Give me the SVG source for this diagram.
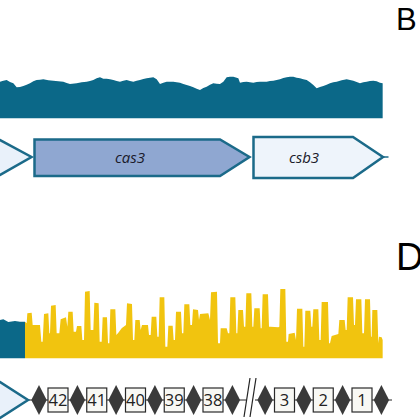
<svg xmlns="http://www.w3.org/2000/svg" width="420" height="420" viewBox="0 0 420 420">
<style>
.gene{stroke:#1b6a89;stroke-width:2.5;stroke-linejoin:miter}
.gl{font-family:"Open Sans","Liberation Sans",sans-serif;font-style:italic;font-size:15px;fill:#1a1a2a;text-anchor:middle}
.dia{fill:#3a3a3a}
.box{fill:#f8f8f4;stroke:#2a2a2a;stroke-width:1.2}
.num{font-family:"Open Sans","Liberation Sans",sans-serif;font-size:16.5px;fill:#222;text-anchor:middle}
.lab{font-family:"Liberation Sans",Arial,sans-serif;fill:#000}
</style>
<rect width="420" height="420" fill="#fff"/>
<text class="lab" x="396" y="30" font-size="31">B</text>
<text class="lab" x="396" y="270" font-size="38">D</text>
<g id="coverage-top">
<path fill="#0b6888" transform="scale(0.33333)" d="M0,355 L0,245 L10,242 L20,240 L30,246 L40,250 L50,262 L60,261 L70,258 L80,254 L90,250 L100,244 L110,240 L120,239 L130,238 L145,241 L160,242 L175,244 L190,245 L200,249 L210,252 L230,250 L245,247 L260,245 L270,243 L280,240 L290,235 L300,232 L310,236 L320,236 L330,238 L340,240 L350,243 L360,245 L370,242 L380,240 L390,243 L400,245 L410,242 L420,240 L430,237 L440,235 L450,233 L460,232 L470,238 L480,252 L490,248 L500,245 L520,245 L530,247 L540,248 L550,252 L560,255 L570,258 L580,262 L590,266 L600,270 L610,264 L620,260 L630,254 L640,250 L650,251 L660,252 L670,245 L680,232 L690,230 L700,230 L710,233 L715,235 L720,248 L730,246 L740,245 L750,247 L760,248 L770,246 L780,245 L800,245 L810,243 L820,242 L830,240 L840,238 L850,234 L860,232 L870,230 L880,230 L890,233 L900,235 L910,238 L920,240 L930,247 L940,255 L950,265 L960,261 L970,258 L980,254 L990,250 L1000,247 L1010,245 L1025,241 L1040,238 L1050,240 L1060,242 L1070,246 L1080,250 L1090,247 L1100,245 L1110,243 L1120,242 L1130,244 L1140,248 L1148,250 L1148,355 Z"/>
</g>
<g id="coverage-bottom" transform="translate(0,210) scale(0.33333)">
<path fill="#0b6888" d="M0,445 L0,330 L10,328 L25,336 L45,333 L60,335 L75,335 L75,445 Z"/>
<path fill="#f1c40f" d="M75,445 L75,335 L80,340 L82,310 L95,308 L98,345 L108,345 L120,345 L124,395 L128,395 L132,312 L145,310 L148,370 L150,370 L153,287 L167,285 L170,370 L178,370 L182,328 L198,322 L202,350 L205,305 L218,305 L221,365 L228,365 L231,348 L244,348 L247,390 L252,390 L255,245 L269,243 L272,360 L280,360 L283,278 L296,280 L299,395 L305,395 L308,322 L321,322 L324,400 L328,400 L331,298 L346,298 L349,375 L355,368 L365,355 L378,345 L381,280 L396,282 L399,390 L403,390 L406,330 L419,330 L422,360 L426,345 L444,345 L447,375 L452,375 L455,320 L469,320 L472,380 L476,380 L479,262 L493,262 L496,410 L502,410 L505,347 L518,347 L521,390 L525,390 L528,305 L543,305 L546,370 L550,370 L553,283 L568,283 L571,345 L576,345 L579,298 L594,300 L597,330 L600,312 L625,310 L630,330 L633,247 L651,245 L654,400 L660,400 L662,355 L680,355 L684,370 L688,370 L691,262 L706,262 L709,370 L712,370 L715,300 L729,300 L732,350 L736,350 L739,250 L754,250 L757,350 L760,350 L763,295 L779,295 L782,355 L785,355 L788,253 L804,253 L807,350 L812,350 L835,352 L838,350 L841,237 L856,237 L859,395 L864,395 L866,372 L884,368 L888,390 L891,296 L907,296 L910,410 L913,410 L916,302 L931,302 L934,350 L937,350 L940,298 L955,298 L958,390 L962,390 L965,276 L984,276 L987,400 L990,400 L995,378 L1015,372 L1018,330 L1034,330 L1037,360 L1040,360 L1043,262 L1059,262 L1062,345 L1065,345 L1068,268 L1084,268 L1087,370 L1092,370 L1095,268 L1110,268 L1113,380 L1115,380 L1117,300 L1132,300 L1135,400 L1137,380 L1145,382 L1148,390 L1148,445 Z"/>
</g>
<g id="gene-partial-top"><path class="gene" fill="#e9f1fa" d="M-5,140 L0,140 L31.5,157 L0,175 L-5,175"/></g>
<g id="gene-cas3"><path class="gene" fill="#8fa7d1" d="M34.5,139.5 L220,139.5 L249.5,157 L220,176 L34.5,176 Z"/><text class="gl" x="130" y="162.5">cas3</text></g>
<g id="gene-csb3"><path class="gene" fill="#eef4fb" d="M253.5,137 L353,137 L383,157 L353,178 L253.5,178 Z"/><text class="gl" x="304" y="162.5">csb3</text></g>
<g id="connectors">
<line x1="383" y1="157" x2="388.5" y2="157" stroke="#1b6a89" stroke-width="1.5"/>
<line x1="28" y1="400" x2="246" y2="400" stroke="#222" stroke-width="1"/>
<line x1="255" y1="400" x2="392" y2="400" stroke="#222" stroke-width="1"/>
<line x1="250" y1="378" x2="244" y2="417" stroke="#222" stroke-width="1.2"/>
<line x1="256" y1="378" x2="250" y2="417" stroke="#222" stroke-width="1.2"/>
</g>
<g id="gene-partial-bottom"><path class="gene" fill="#e9f1fa" d="M-5,382 L0,382 L28,400 L0,418 L-5,418"/></g>
<g id="repeat-array">
<g id="sp-d1"><path class="dia" d="M39,385 L46.7,400 L39,415 L31.3,400 Z"/></g>
<g id="sp-42"><rect class="box" x="48" y="388" width="20" height="24"/><text class="num" x="58" y="406">42</text></g>
<g id="sp-d2"><path class="dia" d="M77.4,385 L85.1,400 L77.4,415 L69.7,400 Z"/></g>
<g id="sp-41"><rect class="box" x="86.75" y="388" width="20" height="24"/><text class="num" x="96.75" y="406">41</text></g>
<g id="sp-d3"><path class="dia" d="M116.1,385 L123.8,400 L116.1,415 L108.4,400 Z"/></g>
<g id="sp-40"><rect class="box" x="125.5" y="388" width="20" height="24"/><text class="num" x="135.5" y="406">40</text></g>
<g id="sp-d4"><path class="dia" d="M154.9,385 L162.6,400 L154.9,415 L147.2,400 Z"/></g>
<g id="sp-39"><rect class="box" x="164.25" y="388" width="20" height="24"/><text class="num" x="174.25" y="406">39</text></g>
<g id="sp-d5"><path class="dia" d="M193.6,385 L201.3,400 L193.6,415 L185.9,400 Z"/></g>
<g id="sp-38"><rect class="box" x="203" y="388" width="20" height="24"/><text class="num" x="213" y="406">38</text></g>
<g id="sp-d6"><path class="dia" d="M232.4,385 L240.1,400 L232.4,415 L224.7,400 Z"/></g>
<g id="sp-d7"><path class="dia" d="M265.1,385 L272.8,400 L265.1,415 L257.4,400 Z"/></g>
<g id="sp-3"><rect class="box" x="274.5" y="388" width="20" height="24"/><text class="num" x="284.5" y="406">3</text></g>
<g id="sp-d8"><path class="dia" d="M303.9,385 L311.6,400 L303.9,415 L296.2,400 Z"/></g>
<g id="sp-2"><rect class="box" x="313.25" y="388" width="20" height="24"/><text class="num" x="323.25" y="406">2</text></g>
<g id="sp-d9"><path class="dia" d="M342.6,385 L350.3,400 L342.6,415 L334.9,400 Z"/></g>
<g id="sp-1"><rect class="box" x="352" y="388" width="20" height="24"/><text class="num" x="362" y="406">1</text></g>
<g id="sp-d10"><path class="dia" d="M381.4,385 L389.1,400 L381.4,415 L373.7,400 Z"/></g>
</g>
</svg>
